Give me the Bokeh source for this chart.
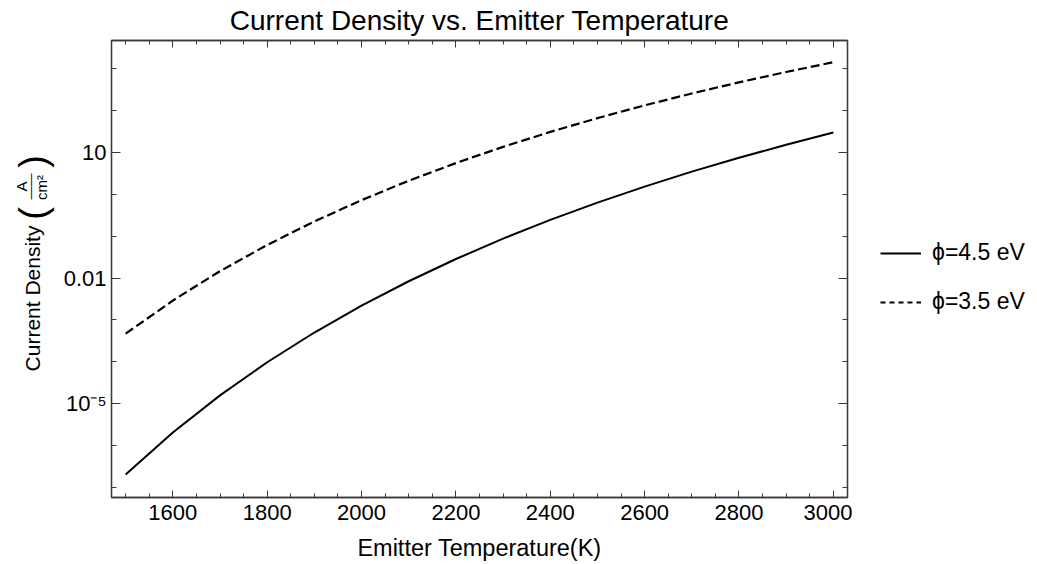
import math
from bokeh.plotting import figure
from bokeh.layouts import row
from bokeh.models import (Range1d, LogAxis, LinearAxis, FixedTicker, SingleIntervalTicker,
                          Legend, LegendItem, Label, CustomLabelingPolicy)
from bokeh.embed import file_html
from bokeh.resources import INLINE

# ---- data ----
temperature_K = [1500, 1600, 1700, 1800, 1900, 2000, 2100, 2200,
                 2300, 2400, 2500, 2600, 2700, 2800, 2900, 3000]
current_density_phi45 = [2.05e-7, 2.06e-6, 1.58e-5, 9.77e-5, 5.01e-4, 2.19e-3, 8.39e-3, 2.85e-2,
                         8.75e-2, 0.245, 0.635, 1.53, 3.48, 7.48, 15.2, 29.8]
current_density_phi35 = [4.70e-4, 2.90e-3, 1.46e-2, 6.17e-2, 0.225, 0.726, 2.11, 5.57,
                         13.6, 30.9, 65.9, 133.0, 256.0, 472.0, 834.0, 1426.0]
series_labels = ["\u03d5=4.5 eV", "\u03d5=3.5 eV"]
y_tick_values = [1e-5, 1e-2, 1e1]
y_tick_labels = ["10\u207b\u2075", "0.01", "10"]
y_minor_values = [1e-7, 1e-6, 1e-4, 1e-3, 1e-1, 1e0, 1e2, 1e3]

FONT = "Liberation Sans"
FRAME = "#3a3a3a"
LEFT_W, RIGHT_W, H = 60, 185, 564
MAIN_W = 1037 - LEFT_W - RIGHT_W
BORDER_TOP, BORDER_BOTTOM = 40, 67
FRAME_BOTTOM = H - BORDER_BOTTOM   # frames of the row are aligned

def blank_fig(w):
    f = figure(width=w, height=H, x_range=Range1d(0, 1), y_range=Range1d(0, 1),
               x_axis_location=None, y_axis_location=None,
               output_backend="svg", toolbar_location=None,
               min_border=0, min_border_left=0, min_border_right=0,
               min_border_top=0, min_border_bottom=0)
    f.outline_line_color = None
    f.grid.visible = False
    f.background_fill_color = "white"
    f.border_fill_color = "white"
    return f

# ---------------- main plot ----------------
p = figure(width=MAIN_W, height=H,
           x_range=Range1d(1470, 3030),
           y_range=Range1d(10 ** -7.24, 10 ** 3.673),
           y_axis_type="log",
           output_backend="svg", toolbar_location=None,
           min_border_left=109 - LEFT_W, min_border_right=2,
           min_border_top=BORDER_TOP, min_border_bottom=BORDER_BOTTOM,
           title="Current Density vs. Emitter Temperature")

p.title.text_font = FONT
p.title.text_font_size = "28px"
p.title.text_font_style = "normal"
p.title.text_color = "black"
p.title.align = "center"
p.title.standoff = 2

p.grid.visible = False
p.outline_line_color = FRAME
p.outline_line_width = 1.3
p.background_fill_color = "white"
p.border_fill_color = "white"

p.line(temperature_K, current_density_phi45, line_color="black", line_width=2)
p.line(temperature_K, current_density_phi35, line_color="black", line_width=2.2,
       line_dash="9 4")

def style_axis(ax, major_in, minor_in):
    ax.axis_line_color = FRAME
    ax.axis_line_width = 1.3
    ax.major_tick_line_color = FRAME
    ax.minor_tick_line_color = FRAME
    ax.major_tick_in = major_in
    ax.major_tick_out = 0
    ax.minor_tick_in = minor_in
    ax.minor_tick_out = 0
    ax.major_label_text_font = FONT
    ax.major_label_text_font_size = "22px"
    ax.major_label_text_color = "black"

x_ticker = SingleIntervalTicker(interval=200, num_minor_ticks=4)
y_ticker = FixedTicker(ticks=y_tick_values, minor_ticks=y_minor_values)

xa = p.xaxis[0]
xa.ticker = x_ticker
style_axis(xa, 7, 4)
xa.major_label_standoff = 7
xa.axis_label = "Emitter Temperature(K)"
xa.axis_label_text_font = FONT
xa.axis_label_text_font_size = "23.5px"
xa.axis_label_text_font_style = "normal"
xa.axis_label_text_color = "black"
xa.axis_label_standoff = 12

ya = p.yaxis[0]
ya.ticker = y_ticker
style_axis(ya, 9, 5)
ya.major_label_standoff = 5
ya.major_label_overrides = {v: l for v, l in zip(y_tick_values, y_tick_labels)}

no_labels = CustomLabelingPolicy(code="""
    for (const i of Array.from(indices)) { indices.unset(i) }
    return indices
""")

top = LinearAxis(ticker=x_ticker)
style_axis(top, 7, 4)
top.major_label_policy = no_labels
top.major_label_text_font_size = "1px"
top.major_label_standoff = 0
p.add_layout(top, "above")

right = LogAxis(ticker=y_ticker)
style_axis(right, 9, 5)
right.major_label_policy = no_labels
right.major_label_text_font_size = "1px"
right.major_label_standoff = 0
p.add_layout(right, "right")

# ---------------- y-axis title panel ----------------
left = blank_fig(LEFT_W)

def ylab(text, x, y_canvas, size):
    left.add_layout(Label(x=x, y=FRAME_BOTTOM - y_canvas, x_units="screen", y_units="screen",
                          text=text, angle=math.pi / 2,
                          text_align="center", text_baseline="middle",
                          text_font=FONT, text_font_size=size, text_color="black"))

ylab("Current Density", 32, 298, "21px")
ylab("(", 32, 213, "38px")
ylab(")", 32, 161, "38px")
ylab("A", 21, 186, "15px")
ylab("\u2014\u2014", 30, 186, "13px")
ylab("cm\u00b2", 40.5, 187, "15px")

# ---------------- legend panel ----------------
lg = blank_fig(RIGHT_W)
k1 = lg.line(temperature_K, current_density_phi45, line_color="black", line_width=2,
             visible=False)
k2 = lg.line(temperature_K, current_density_phi35, line_color="black", line_width=2,
             line_dash="5 4", visible=False)
legend = Legend(items=[LegendItem(label=series_labels[0], renderers=[k1]),
                       LegendItem(label=series_labels[1], renderers=[k2])],
                location=(28, FRAME_BOTTOM - 315), orientation="vertical",
                border_line_color=None, background_fill_alpha=0,
                glyph_width=41, glyph_height=24, label_height=24,
                label_standoff=11, spacing=22, padding=0, margin=0,
                label_text_font=FONT, label_text_font_size="23px",
                label_text_color="black")
lg.add_layout(legend)

layout = row(left, p, lg, spacing=0)
open("out.html", "w").write(file_html(layout, INLINE))
